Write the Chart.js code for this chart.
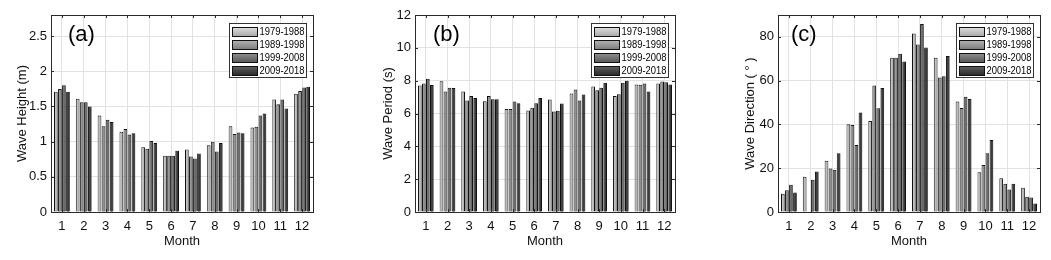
<!DOCTYPE html>
<html>
<head>
<meta charset="utf-8">
<script src="https://cdn.jsdelivr.net/npm/chart.js@4/dist/chart.umd.min.js"></script>
<style>
  html, body { margin: 0; padding: 0; background: #fff; }
  body { width: 1051px; height: 260px; position: relative; overflow: hidden; }
  .wrap { position: absolute; top: 0; height: 260px; }
</style>
</head>
<body>
<div class="wrap" style="left:0;width:350px"><canvas id="ca"></canvas></div>
<div class="wrap" style="left:350px;width:350px"><canvas id="cb"></canvas></div>
<div class="wrap" style="left:700px;width:351px"><canvas id="cc"></canvas></div>
<script>
// ---------- DATA ----------
const months = ['1','2','3','4','5','6','7','8','9','10','11','12'];
const periods = ['1979-1988','1989-1998','1999-2008','2009-2018'];

// (a) Wave Height (m)
const height_1979_1988 = [1.71,1.61,1.37,1.14,0.92,0.80,0.89,0.95,1.22,1.20,1.60,1.68];
const height_1989_1998 = [1.75,1.56,1.22,1.18,0.90,0.80,0.79,1.00,1.11,1.21,1.53,1.72];
const height_1999_2008 = [1.80,1.56,1.31,1.10,1.01,0.80,0.76,0.86,1.13,1.37,1.60,1.77];
const height_2009_2018 = [1.71,1.50,1.28,1.12,0.98,0.87,0.83,0.98,1.12,1.40,1.47,1.78];

// (b) Wave Period (s)
const period_1979_1988 = [7.71,7.97,7.34,6.75,6.28,6.18,6.85,7.22,7.65,7.06,7.77,7.83];
const period_1989_1998 = [7.83,7.34,6.79,7.06,6.28,6.35,6.12,7.46,7.42,7.18,7.75,7.95];
const period_1999_2008 = [8.11,7.57,7.06,6.87,6.73,6.63,6.16,6.79,7.57,7.87,7.83,7.91];
const period_2009_2018 = [7.73,7.55,6.94,6.87,6.63,6.94,6.61,7.16,7.87,7.99,7.34,7.77];

// (c) Wave Direction (deg)
const dir_1979_1988 = [8.3,16.1,23.4,40.1,41.6,70.5,81.5,70.5,50.5,18.2,15.4,11.1];
const dir_1989_1998 = [9.9,null,19.9,39.8,57.8,70.5,76.5,61.5,47.5,21.5,12.9,7.0];
const dir_1999_2008 = [12.4,14.7,19.3,30.6,47.4,72.3,85.9,62.0,52.7,26.8,10.3,6.6];
const dir_2009_2018 = [8.9,18.5,26.8,45.4,56.6,68.8,75.1,71.3,51.6,32.9,12.9,3.9];

const yTicksA = [0, 0.5, 1, 1.5, 2, 2.5];
const yTicksB = [0, 2, 4, 6, 8, 10, 12];
const yTicksC = [0, 20, 40, 60, 80];

// ---------- STYLE ----------
const fills = [[185,185,185], [142,142,142], [106,106,106], [58,58,58]];
const FONT = "'Liberation Sans', Arial, sans-serif";
const TXT = '#111';
const GRID = '#e2e2e2';
const FRAME = '#2b2b2b';

function rgb(c, d) {
  const f = v => Math.max(0, Math.min(255, Math.round(v + d)));
  return 'rgb(' + f(c[0]) + ',' + f(c[1]) + ',' + f(c[2]) + ')';
}

function makeDatasets(arrs) {
  return arrs.map((d, i) => ({
    label: periods[i],
    data: d,
    backgroundColor: rgb(fills[i], 0),
    borderColor: '#111',
    borderWidth: 1,
    categoryPercentage: 0.74,
    barPercentage: 0.92
  }));
}

// shade each bar (as placed by the library) with a horizontal gradient
const shadePlugin = {
  id: 'shade',
  afterDatasetsDraw(chart) {
    const ctx = chart.ctx;
    ctx.save();
    chart.data.datasets.forEach((ds, di) => {
      const meta = chart.getDatasetMeta(di);
      meta.data.forEach((el, i) => {
        if (ds.data[i] == null) return;
        const p = el.getProps(['x', 'y', 'base', 'width'], true);
        const l = p.x - p.width / 2, r = p.x + p.width / 2;
        const g = ctx.createLinearGradient(l, 0, r, 0);
        g.addColorStop(0, rgb(fills[di], 70));
        g.addColorStop(0.35, rgb(fills[di], 10));
        g.addColorStop(1, rgb(fills[di], -25));
        ctx.fillStyle = g;
        ctx.fillRect(l + 1, p.y + 1, p.width - 2, p.base - p.y - 1);
      });
    });
    ctx.restore();
  }
};

const framePlugin = {
  id: 'frame',
  afterDraw(chart, args, opts) {
    const { ctx, chartArea: a } = chart;
    ctx.save();
    ctx.strokeStyle = FRAME;
    ctx.lineWidth = 1;
    ctx.strokeRect(Math.round(a.left) + 0.5, Math.round(a.top) + 0.5,
                   Math.round(a.right - a.left), Math.round(a.bottom - a.top));
    const ys = chart.scales.y, xs = chart.scales.x;
    ctx.beginPath();
    ys.ticks.forEach(t => {
      const y = Math.round(ys.getPixelForValue(t.value)) + 0.5;
      ctx.moveTo(a.left, y); ctx.lineTo(a.left + 3, y);
      ctx.moveTo(a.right, y); ctx.lineTo(a.right - 3, y);
    });
    xs.ticks.forEach((t, i) => {
      const x = Math.round(xs.getPixelForTick(i)) + 0.5;
      ctx.moveTo(x, a.bottom); ctx.lineTo(x, a.bottom - 3);
      ctx.moveTo(x, a.top); ctx.lineTo(x, a.top + 3);
    });
    ctx.stroke();
    // panel label
    ctx.fillStyle = '#000';
    ctx.font = '22px ' + FONT;
    ctx.textBaseline = 'middle';
    ctx.textAlign = 'left';
    ctx.fillText(opts.panel, a.left + opts.panelDx, 35);
    // legend box
    const bw = 77, bh = 54;
    const bx = Math.round(a.right - 7 - bw) + 0.5, by = Math.round(a.top + 8) + 0.5;
    ctx.fillStyle = '#fff';
    ctx.fillRect(bx, by, bw, bh);
    ctx.strokeStyle = '#333';
    ctx.strokeRect(bx, by, bw, bh);
    chart.data.datasets.forEach((ds, i) => {
      const cy = by + 7.5 + i * 13;
      const sxL = bx + 3, syT = Math.round(cy - 4.5);
      const g = ctx.createLinearGradient(0, syT, 0, syT + 9);
      g.addColorStop(0, rgb(fills[i], 40));
      g.addColorStop(1, rgb(fills[i], -15));
      ctx.fillStyle = g;
      ctx.fillRect(sxL, syT, 25, 9);
      ctx.strokeStyle = '#111';
      ctx.strokeRect(sxL, syT + 0.5, 25, 9);
      ctx.fillStyle = '#000';
      ctx.font = '11px ' + FONT;
      const w = ctx.measureText(ds.label).width;
      const sx = 45 / w;
      ctx.save();
      ctx.translate(bx + 30, cy + 0.5);
      ctx.scale(sx, 1);
      ctx.fillText(ds.label, 0, 0);
      ctx.restore();
    });
    ctx.restore();
  }
};

function makeChart(id, arrs, yTitle, yMax, ticks, leftW, rightPad, titlePad, panel, panelDx) {
  return new Chart(document.getElementById(id), {
    type: 'bar',
    data: { labels: months, datasets: makeDatasets(arrs) },
    plugins: [shadePlugin, framePlugin],
    options: {
      responsive: true,
      maintainAspectRatio: false,
      animation: false,
      layout: { padding: { top: 15, right: rightPad, left: 0, bottom: 0 } },
      plugins: {
        legend: { display: false },
        tooltip: { enabled: false },
        frame: { panel: panel, panelDx: panelDx }
      },
      scales: {
        x: {
          grid: { color: GRID, offset: false, drawTicks: false },
          border: { color: FRAME },
          ticks: { color: TXT, font: { family: FONT, size: 13 }, padding: 7, maxRotation: 0, autoSkip: false },
          title: { display: true, text: 'Month', color: TXT, font: { family: FONT, size: 13 }, padding: { top: 0, bottom: 11 } },
          afterFit(s) { s.height = 48; }
        },
        y: {
          min: 0, max: yMax,
          grid: { color: GRID, drawTicks: false },
          border: { color: FRAME },
          ticks: { color: TXT, font: { family: FONT, size: 13 }, padding: 4, callback: v => String(+v) },
          afterBuildTicks(s) { s.ticks = ticks.map(v => ({ value: v })); },
          title: { display: true, text: yTitle, color: TXT, font: { family: FONT, size: 13 }, padding: { top: titlePad, bottom: 0 } },
          afterFit(s) { s.width = leftW; }
        }
      }
    }
  });
}

makeChart('ca', [height_1979_1988, height_1989_1998, height_1999_2008, height_2009_2018],
  'Wave Height (m)', 2.8, yTicksA, 51, 37, 14.2, '(a)', 17);
makeChart('cb', [period_1979_1988, period_1989_1998, period_1999_2008, period_2009_2018],
  'Wave Period (s)', 12, yTicksB, 65, 25, 30.2, '(b)', 18);
makeChart('cc', [dir_1979_1988, dir_1989_1998, dir_1999_2008, dir_2009_2018],
  'Wave Direction ( \u00B0 )', 90, yTicksC, 78, 11, 42.2, '(c)', 13);
</script>
</body>
</html>
